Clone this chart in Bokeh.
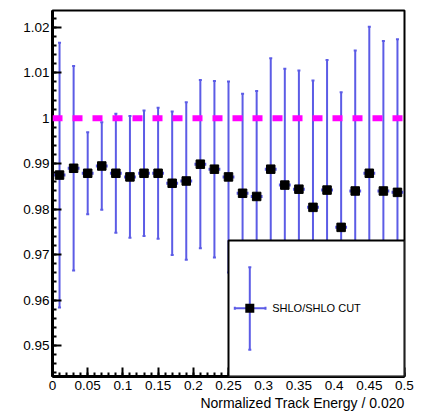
import numpy as np
from bokeh.plotting import figure
from bokeh.models import (Range1d, FixedTicker, Whisker, TeeHead, ColumnDataSource,
                          BoxAnnotation, Label, Span, Title)
from bokeh.embed import file_html
from bokeh.resources import INLINE

# ---------------- data ----------------
energy = [0.01, 0.03, 0.05, 0.07, 0.09, 0.11, 0.13, 0.15, 0.17, 0.19,
          0.21, 0.23, 0.25, 0.27, 0.29, 0.31, 0.33, 0.35, 0.37, 0.39,
          0.41, 0.43, 0.45, 0.47, 0.49]
ratio = [0.9875, 0.9890, 0.9879, 0.9895, 0.9879, 0.9871, 0.9879, 0.9879, 0.9857, 0.9862,
         0.9899, 0.9888, 0.9871, 0.9835, 0.9828, 0.9888, 0.9853, 0.9844, 0.9804, 0.9842,
         0.9760, 0.9840, 0.9879, 0.9840, 0.9837]
ratio_err = [0.0291, 0.0225, 0.0090, 0.0096, 0.0131, 0.0134, 0.0138, 0.0144, 0.0158, 0.0173,
             0.0185, 0.0194, 0.0210, 0.0219, 0.0232, 0.0244, 0.0256, 0.0261, 0.0279, 0.0286,
             0.0297, 0.0309, 0.0322, 0.0330, 0.0337]
energy_err = [0.007] * 25
reference_value = 1.0

x_ticks = [0, 0.05, 0.1, 0.15, 0.2, 0.25, 0.3, 0.35, 0.4, 0.45, 0.5]
x_tick_labels = ["0", "0.05", "0.1", "0.15", "0.2", "0.25", "0.3", "0.35", "0.4", "0.45", "0.5"]
y_ticks = [0.95, 0.96, 0.97, 0.98, 0.99, 1.0, 1.01, 1.02]
y_tick_labels = ["0.95", "0.96", "0.97", "0.98", "0.99", "1", "1.01", "1.02"]
x_title = "Normalized Track Energy / 0.020"
legend_label = "SHLO/SHLO CUT"

# ---------------- styling ----------------
FONT = "Liberation Sans"
BAR = "#5c5ce6"

y = np.array(ratio)
e = np.array(ratio_err)
xa = np.array(energy)
xe = np.array(energy_err)
src = ColumnDataSource(dict(x=xa, y=y, lo=y - e, hi=y + e, xlo=xa - xe, xhi=xa + xe))

p = figure(width=424, height=411, output_backend="svg", toolbar_location=None,
           x_range=Range1d(0, 0.5), y_range=Range1d(0.9432, 1.0237),
           min_border_left=52, min_border_right=20, min_border_top=10, min_border_bottom=35)
p.background_fill_color = "white"
p.border_fill_color = "white"
p.grid.visible = False
p.outline_line_color = "black"
p.outline_line_width = 2

for ax in (p.xaxis[0], p.yaxis[0]):
    ax.axis_line_width = 3
    ax.major_tick_line_width = 2
    ax.minor_tick_line_width = 2
    ax.major_tick_in = 9
    ax.major_tick_out = 0
    ax.minor_tick_in = 4
    ax.minor_tick_out = 0
    ax.major_label_text_font = FONT
    ax.major_label_text_font_size = "13.5px"
    ax.major_label_text_color = "black"

p.xaxis.ticker = FixedTicker(ticks=x_ticks, minor_ticks=list(np.round(np.arange(0, 0.501, 0.01), 3)))
p.yaxis.ticker = FixedTicker(ticks=y_ticks, minor_ticks=list(np.round(np.arange(0.944, 1.0237, 0.002), 4)))
p.xaxis.major_label_overrides = {t: l for t, l in zip(x_ticks, x_tick_labels)}
p.yaxis.major_label_overrides = {t: l for t, l in zip(y_ticks, y_tick_labels)}
p.xaxis.major_label_standoff = 4
p.yaxis.major_label_standoff = 3

# x-axis title, right-aligned under the axis
p.add_layout(Title(text=x_title, align="right", text_font=FONT, text_font_size="14px",
                   text_font_style="normal", text_color="black", standoff=0, offset=0), "below")

# error bars
p.add_layout(Whisker(source=src, base="x", lower="lo", upper="hi", dimension="height",
                     line_color=BAR, line_width=2,
                     lower_head=TeeHead(size=3, line_color=BAR, line_width=2),
                     upper_head=TeeHead(size=3, line_color=BAR, line_width=2),
                     level="underlay"))
p.add_layout(Whisker(source=src, base="y", lower="xlo", upper="xhi", dimension="width",
                     line_color=BAR, line_width=2,
                     lower_head=TeeHead(size=3, line_color=BAR, line_width=2),
                     upper_head=TeeHead(size=3, line_color=BAR, line_width=2),
                     level="underlay"))

# reference line
p.add_layout(Span(location=reference_value, dimension="width", line_color="#ff00ff",
                  line_width=6, line_dash="10 10"))

p.scatter("x", "y", source=src, marker="square", size=8.5, color="black")

# legend (drawn manually in screen units relative to the frame)
p.add_layout(BoxAnnotation(left=176, right=352, bottom=0, top=136,
                           left_units="screen", right_units="screen",
                           bottom_units="screen", top_units="screen",
                           fill_color="white", fill_alpha=1.0,
                           line_color="black", line_width=2, line_alpha=1.0))
leg = ColumnDataSource(dict(b=[197.3], lo=[26.7], hi=[109.3], yb=[68.3], xl=[182.3], xh=[213.0]))
p.add_layout(Whisker(source=leg, base="b", lower="lo", upper="hi", dimension="height",
                     base_units="screen", lower_units="screen", upper_units="screen",
                     line_color=BAR, line_width=2,
                     lower_head=TeeHead(size=3, line_color=BAR, line_width=2),
                     upper_head=TeeHead(size=3, line_color=BAR, line_width=2),
                     level="overlay"))
p.add_layout(Whisker(source=leg, base="yb", lower="xl", upper="xh", dimension="width",
                     base_units="screen", lower_units="screen", upper_units="screen",
                     line_color=BAR, line_width=2,
                     lower_head=TeeHead(size=3, line_color=BAR, line_width=2),
                     upper_head=TeeHead(size=3, line_color=BAR, line_width=2),
                     level="overlay"))
p.add_layout(BoxAnnotation(left=192.8, right=201.8, bottom=63.8, top=72.8,
                           left_units="screen", right_units="screen",
                           bottom_units="screen", top_units="screen",
                           fill_color="black", fill_alpha=1.0, line_color="black",
                           line_alpha=1.0, line_width=0, level="overlay"))
p.add_layout(Label(x=219.7, y=68.3, x_units="screen", y_units="screen", text=legend_label,
                   text_font=FONT, text_font_size="11px", text_baseline="middle",
                   text_align="left", text_color="black", level="overlay"))

open("out.html", "w").write(file_html(p, INLINE))
